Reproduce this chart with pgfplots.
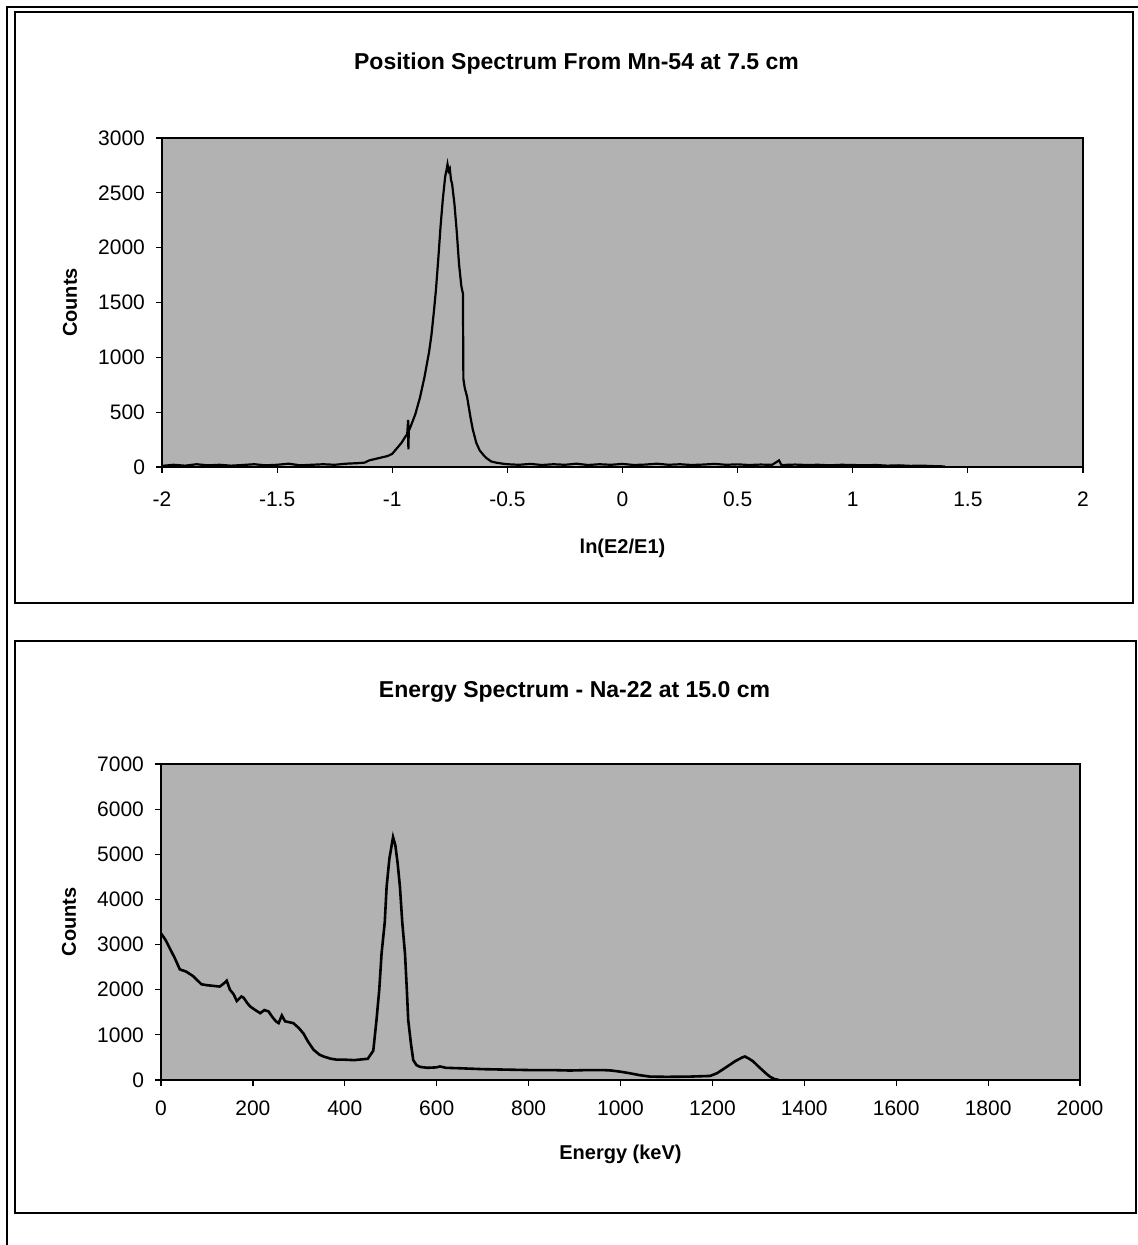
\documentclass[border=0pt]{standalone}
\usepackage{fontspec}
\setmainfont{Liberation Sans}
\usepackage{pgfplots}
\pgfplotsset{compat=1.18}
\begin{document}
\begin{tikzpicture}[x=0.5pt,y=0.5pt]
\path[use as bounding box] (0,0) rectangle (1138,1245);
% frames
\draw[line width=0.9pt] (7,0) -- (7,1238) -- (1138,1238);
\draw[line width=0.8pt] (15,1233) rectangle (1133,642);
\draw[line width=0.9pt] (15,604) rectangle (1136,32);
\pgfplotsset{
  common/.style={
    scale only axis,
    axis background/.style={fill=black!30},
    axis line style={line width=1pt},
    tick align=outside,
    tick pos=left,
    major tick length=3pt,
    tick style={black, line width=0.6pt},
    scaled ticks=false,
    /pgf/number format/1000 sep={},
    /pgf/number format/assume math mode=true,
    tick label style={font=\fontsize{10.5}{12}\selectfont},
    yticklabel style={xshift=-2pt},
    label style={font=\bfseries\fontsize{10}{12}\selectfont},
    title style={font=\bfseries\fontsize{11.5}{14}\selectfont},
    ylabel style={at={(axis description cs:0,0.5)}, anchor=center, yshift=46pt},
  }
}
\begin{axis}[common,
  at={(81pt,389pt)}, anchor=south west,
  width=460.5pt, height=164.5pt,
  xmin=-2, xmax=2, ymin=0, ymax=3000,
  xtick={-2,-1.5,...,2}, ytick={0,500,...,3000},
  xticklabels={-2,-1.5,-1,-0.5,0,0.5,1,1.5,2},
  xticklabel style={yshift=-6pt},
  title={Position Spectrum From Mn-54 at 7.5 cm},
  title style={at={(axis description cs:0.5,1)}, anchor=center, xshift=-23pt, yshift=31pt},
  xlabel={ln(E2/E1)},
  xlabel style={at={(axis description cs:0.5,0)}, anchor=center, yshift=-40.5pt},
  ylabel={Counts},
]
\addplot[black, line width=1.1pt] coordinates {
(-2.00,10) (-1.95,20) (-1.90,12) (-1.85,25) (-1.80,15) (-1.75,20) (-1.70,12)
(-1.65,18) (-1.60,25) (-1.55,15) (-1.50,20) (-1.45,30) (-1.40,15) (-1.35,20)
(-1.30,25) (-1.25,20) (-1.20,30) (-1.15,35) (-1.12,40) (-1.10,60) (-1.08,70)
(-1.05,85) (-1.02,100) (-1.00,120) (-0.98,170) (-0.96,220) (-0.945,270)
(-0.935,300) (-0.931,430) (-0.930,160) (-0.928,330)
(-0.92,370) (-0.90,480) (-0.88,630) (-0.86,820) (-0.84,1050) (-0.83,1200)
(-0.82,1400) (-0.81,1620) (-0.80,1900) (-0.79,2200) (-0.78,2450) (-0.77,2650)
(-0.765,2700) (-0.76,2760) (-0.755,2700) (-0.75,2720) (-0.745,2620) (-0.74,2580)
(-0.73,2400) (-0.72,2150) (-0.71,1850) (-0.70,1650) (-0.695,1600) (-0.693,1580)
(-0.692,1150) (-0.691,800) (-0.685,720) (-0.675,640) (-0.66,450) (-0.65,340)
(-0.635,220) (-0.62,150) (-0.60,100) (-0.59,80) (-0.57,50) (-0.55,40) (-0.52,30)
(-0.50,25) (-0.45,20) (-0.40,28) (-0.35,18) (-0.30,25) (-0.25,20) (-0.20,30)
(-0.15,18) (-0.10,25) (-0.05,20) (0.00,28) (0.05,18) (0.10,22) (0.15,30)
(0.20,20) (0.25,25) (0.30,18) (0.35,22) (0.40,28) (0.45,20) (0.50,24)
(0.55,18) (0.60,22) (0.65,20) (0.68,60) (0.69,18) (0.75,22) (0.80,18)
(0.85,20) (0.90,15) (0.95,20) (1.00,18) (1.05,15) (1.10,18) (1.15,12)
(1.20,15) (1.25,10) (1.30,12) (1.35,8) (1.40,5)
};
\end{axis}
\begin{axis}[common,
  at={(80.5pt,82.5pt)}, anchor=south west,
  width=459.5pt, height=158pt,
  xmin=0, xmax=2000, ymin=0, ymax=7000,
  xtick={0,200,...,2000}, ytick={0,1000,...,7000},
  xticklabel style={yshift=-4pt},
  title={Energy Spectrum - Na-22 at 15.0 cm},
  title style={at={(axis description cs:0.5,1)}, anchor=center, xshift=-23pt, yshift=30pt},
  xlabel={Energy (keV)},
  xlabel style={at={(axis description cs:0.5,0)}, anchor=center, yshift=-37pt},
  ylabel={Counts},
]
\addplot[black, line width=1.3pt] coordinates {
(0,3250) (10,3100) (20,2900) (30,2700) (41,2450) (55,2400) (70,2300) (80,2200)
(88,2120) (100,2100) (128,2070) (138,2150) (143,2200) (150,2000) (158,1900)
(165,1750) (175,1850) (180,1820) (188,1700) (194,1630) (205,1550) (216,1480)
(225,1550) (234,1520) (242,1400) (250,1300) (256,1260) (263,1430) (270,1300)
(288,1260) (300,1150) (310,1030) (320,850) (332,670) (345,560) (354,520)
(370,470) (383,450) (400,450) (420,440) (440,460) (450,470) (462,650)
(469,1330) (475,2000) (480,2800) (487,3500) (491,4280) (497,4900) (505,5380)
(510,5200) (515,4800) (520,4280) (525,3500) (531,2800) (535,2000) (538,1330)
(544,800) (549,440) (556,330) (564,290) (580,270) (600,280) (607,300)
(620,270) (650,260) (701,240) (750,230) (800,220) (850,220) (890,210)
(930,220) (962,220) (980,210) (999,185) (1020,150) (1040,110) (1064,75)
(1100,70) (1150,75) (1195,90) (1210,150) (1231,290) (1250,420) (1265,500)
(1271,520) (1280,470) (1289,410) (1300,300) (1315,160) (1325,75) (1335,20)
(1345,0)
};
\end{axis}
\end{tikzpicture}
\end{document}
